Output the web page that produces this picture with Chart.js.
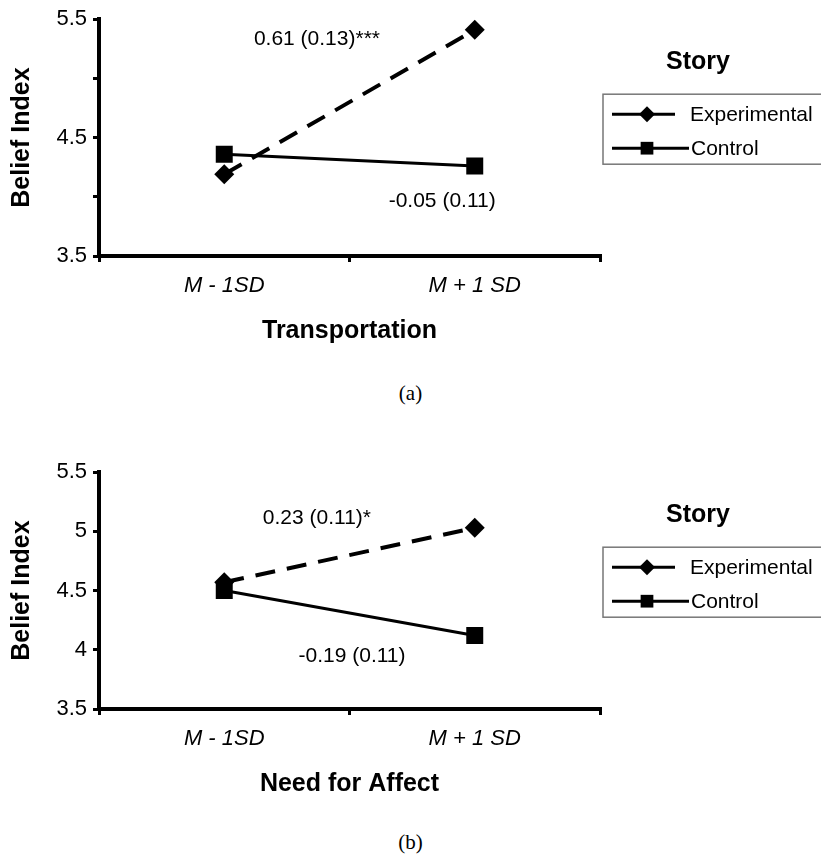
<!DOCTYPE html>
<html>
<head>
<meta charset="utf-8">
<script src="https://cdn.jsdelivr.net/npm/chart.js@4.4.1/dist/chart.umd.min.js"></script>
<style>
  body { margin: 0; background: #fff; width: 821px; height: 856px; position: relative; overflow: hidden; }
  .panel { position: absolute; left: 0; width: 821px; height: 346px; }
  .caption { position: absolute; left: 0; width: 821px; text-align: center;
             font: 21px "Liberation Serif", "DejaVu Serif", serif; line-height: 24px; color: #000; }
</style>
</head>
<body>
<div class="panel" style="top:0"><canvas id="transChart" width="821" height="346"></canvas></div>
<div class="caption" style="top:381px">(a)</div>
<div class="panel" style="top:453px"><canvas id="affectChart" width="821" height="346"></canvas></div>
<div class="caption" style="top:830px">(b)</div>

<script>
// values
const categories = ["M - 1SD", "M + 1 SD"];
const storyLabels = ["Experimental", "Control"];

const transExperimental = [4.19, 5.41];
const transControl = [4.36, 4.26];
const transSlopes = ["0.61 (0.13)***", "-0.05 (0.11)"];
const transYLabels = [3.5, 4.5, 5.5];

const affectExperimental = [4.57, 5.03];
const affectControl = [4.50, 4.12];
const affectSlopes = ["0.23 (0.11)*", "-0.19 (0.11)"];
const affectYLabels = [3.5, 4, 4.5, 5, 5.5];

const FONT = "'Liberation Sans', Arial, sans-serif";

// "Story" legend box at the right, with a line + marker sample per series
const storyLegend = {
  id: "storyLegend",
  afterDraw(chart) {
    const { ctx, chartArea } = chart;
    const left = chartArea.right + 3;
    const top = chartArea.top;
    ctx.save();
    ctx.fillStyle = "#000";
    ctx.textBaseline = "middle";
    ctx.textAlign = "center";
    ctx.font = "bold 25px " + FONT;
    ctx.fillText("Story", left + 95, top + 43);

    ctx.strokeStyle = "#777";
    ctx.lineWidth = 1.5;
    ctx.strokeRect(left, top + 75, 260, 70);

    ctx.textAlign = "left";
    ctx.font = "21px " + FONT;
    chart.data.datasets.forEach((ds, i) => {
      const y = top + 95 + i * 34;
      ctx.strokeStyle = "#000";
      ctx.lineWidth = 3;
      ctx.beginPath();
      ctx.moveTo(left + 9, y);
      ctx.lineTo(left + (i === 0 ? 72 : 86), y);
      ctx.stroke();
      ctx.fillStyle = "#000";
      Chart.helpers.drawPoint(ctx, {
        pointStyle: ds.pointStyle,
        radius: ds.pointStyle === "rect" ? 9 : 8,
        rotation: 0,
        borderWidth: 0
      }, left + 44, y);
      ctx.fillText(ds.label, left + (i === 0 ? 87 : 88), y + 1);
    });
    ctx.restore();
  }
};

// slope estimates written next to the lines
const slopeNotes = {
  id: "slopeNotes",
  afterDatasetsDraw(chart, args, opts) {
    const { ctx, scales } = chart;
    ctx.save();
    ctx.fillStyle = "#000";
    ctx.font = "21px " + FONT;
    ctx.textAlign = "center";
    ctx.textBaseline = "middle";
    opts.texts.forEach((t, i) => {
      const [xv, yv] = opts.anchors[i];
      ctx.fillText(t, scales.x.getPixelForValue(xv), scales.y.getPixelForValue(yv));
    });
    ctx.restore();
  }
};

const makeChart = (canvasId, expValues, ctrlValues, xTitle, yLabels, notes, anchors) => {
  return new Chart(document.getElementById(canvasId), {
    type: "line",
    data: {
      labels: categories,
      datasets: [
        {
          label: storyLabels[0],
          data: expValues,
          borderColor: "#000",
          backgroundColor: "#000",
          borderWidth: 4,
          borderDash: [20, 12],
          pointStyle: "rectRot",
          pointRadius: 10,
          pointBorderWidth: 0,
          fill: false,
          tension: 0
        },
        {
          label: storyLabels[1],
          data: ctrlValues,
          borderColor: "#000",
          backgroundColor: "#000",
          borderWidth: 3,
          pointStyle: "rect",
          pointRadius: 12,
          pointBorderWidth: 0,
          fill: false,
          tension: 0
        }
      ]
    },
    options: {
      responsive: false,
      animation: false,
      events: [],
      layout: { padding: { top: 15, right: 221, left: 0, bottom: 0 } },
      plugins: {
        legend: { display: false },
        tooltip: { enabled: false },
        slopeNotes: { texts: notes, anchors: anchors }
      },
      scales: {
        x: {
          type: "category",
          offset: true,
          grid: { offset: true, drawOnChartArea: false, tickLength: 6, color: "#000", lineWidth: 3 },
          border: { color: "#000", width: 4 },
          ticks: { color: "#000", padding: 11, font: { family: FONT, size: 22, style: "italic" } },
          title: {
            display: true, text: xTitle, color: "#000", padding: 0,
            font: { family: FONT, size: 25, weight: "bold" }
          },
          afterFit: (scale) => { scale.height = 90; }
        },
        y: {
          min: 3.5,
          max: 5.5,
          grid: { drawOnChartArea: false, tickLength: 6, color: "#000", lineWidth: 3 },
          border: { color: "#000", width: 4 },
          ticks: {
            stepSize: 0.5,
            color: "#000",
            padding: 6,
            font: { family: FONT, size: 22 },
            callback: (v) => (yLabels.some((l) => Math.abs(l - v) < 1e-6) ? String(v) : "")
          },
          title: {
            display: true, text: "Belief Index", color: "#000", padding: { top: 7, bottom: 0 },
            font: { family: FONT, size: 25, weight: "bold" }
          },
          afterFit: (scale) => { scale.width = 99; }
        }
      }
    },
    plugins: [storyLegend, slopeNotes]
  });
};

makeChart("transChart", transExperimental, transControl, "Transportation", transYLabels,
  transSlopes, [[0.37, 5.33], [0.87, 3.96]]);
makeChart("affectChart", affectExperimental, affectControl, "Need for Affect", affectYLabels,
  affectSlopes, [[0.37, 5.11], [0.51, 3.95]]);
</script>
</body>
</html>
